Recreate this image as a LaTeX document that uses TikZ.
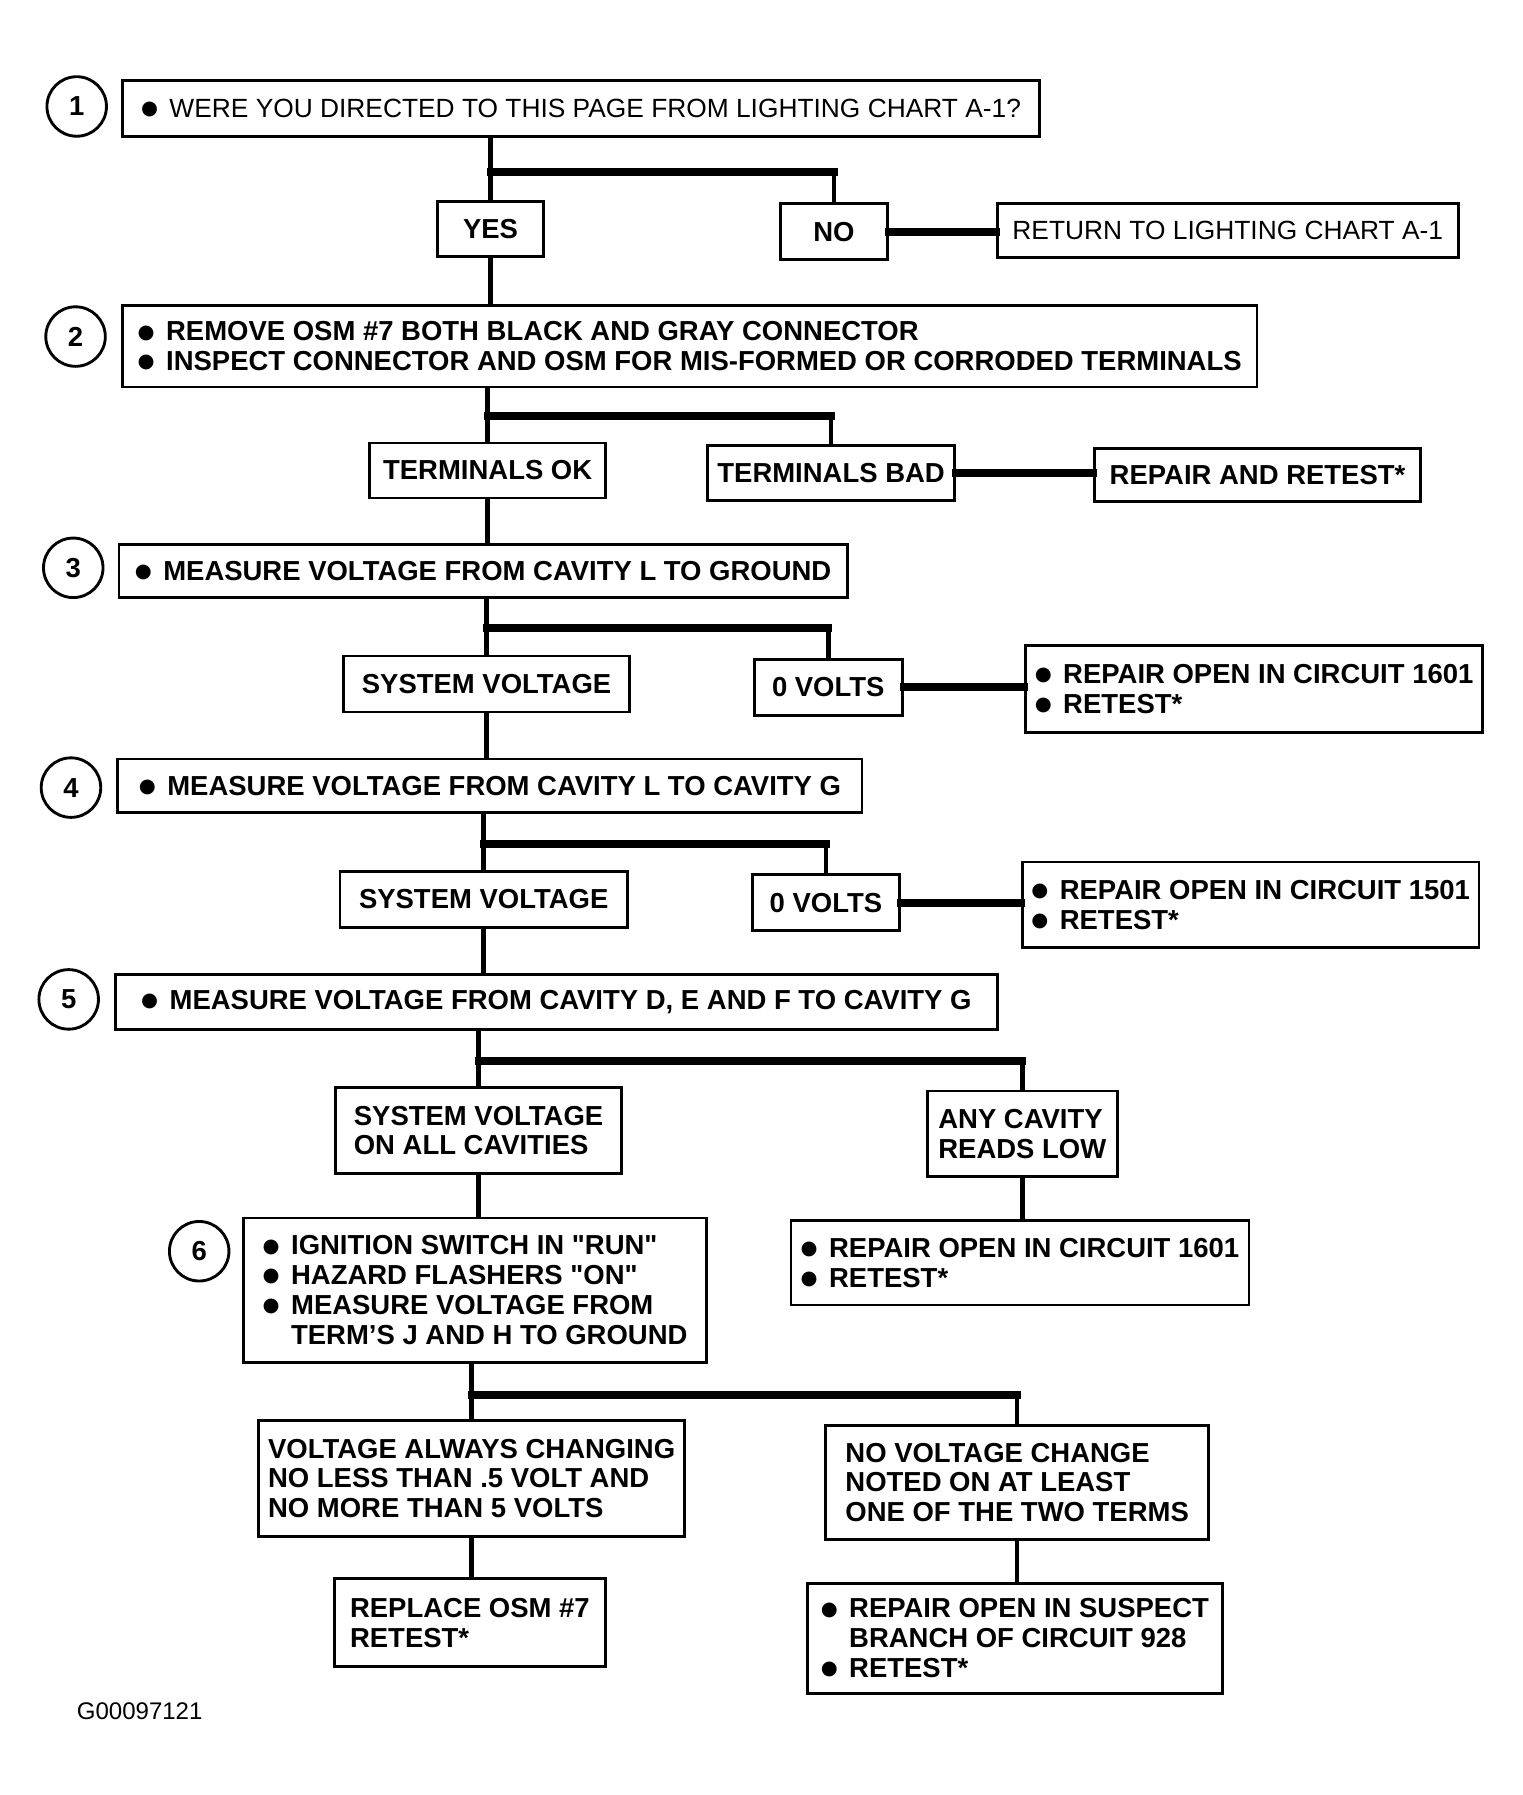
\documentclass[tikz,border=0pt]{standalone}
\usepackage{fontspec}
\setmainfont{Liberation Sans}
\newfontfamily\symfont{DejaVu Sans}
\newcommand{\bul}{\raisebox{2.5pt}{\symfont\fontsize{17}{17}\selectfont ●}\hspace{10pt}}

\begin{document}
\begin{tikzpicture}
  [x=1pt,y=-1pt,
   box/.style={draw,line width=2.5pt,inner sep=0pt,align=left,
     font=\fontsize{24}{26}\selectfont\bfseries},
   plain/.style={box,font=\fontsize{23}{26}\selectfont},
   num/.style={circle,draw,line width=2.5pt,minimum size=52pt,inner sep=0pt,
     font=\fontsize{24}{24}\selectfont\bfseries},
   trunk/.style={line width=4pt},
   bar/.style={line width=7pt,line cap=rect}]
  \useasboundingbox (0,0) rectangle (1330,1568);

  % step numbers
  \node[num] (c1) at (67,93)   {1};
  \node[num] (c2) at (66,294)  {2};
  \node[num] (c3) at (64,496)  {3};
  \node[num] (c4) at (62,688)  {4};
  \node[num] (c5) at (60,873)  {5};
  \node[num] (c6) at (174,1093) {6};

  % step 1
  \node[plain,minimum width=801pt,minimum height=49pt] (b1) at (507.5,94.5)
    {\bul WERE YOU DIRECTED TO THIS PAGE FROM LIGHTING CHART A-1?};
  \node[box,minimum width=93pt,minimum height=48pt] (yes) at (428.5,200) {YES};
  \node[box,minimum width=93pt,minimum height=49pt] (no) at (728.5,202.5) {NO};
  \node[plain,minimum width=403pt,minimum height=47pt] (ret) at (1072.5,201.5)
    {RETURN TO LIGHTING CHART A-1};

  % step 2
  \node[box,minimum width=991pt,minimum height=71pt] (b2) at (602.5,302.5)
    {\bul REMOVE OSM \#7 BOTH BLACK AND GRAY CONNECTOR\\
     \bul INSPECT CONNECTOR AND OSM FOR MIS-FORMED OR CORRODED TERMINALS};
  \node[box,minimum width=206pt,minimum height=48pt] (tok) at (426,411) {TERMINALS OK};
  \node[box,minimum width=216pt,minimum height=48pt] (tbad) at (726,413) {TERMINALS BAD};
  \node[box,minimum width=285pt,minimum height=46pt] (rr) at (1098.5,415) {REPAIR AND RETEST*};

  % step 3
  \node[box,minimum width=636pt,minimum height=46pt] (b3) at (422,499)
    {\bul MEASURE VOLTAGE FROM CAVITY L TO GROUND};
  \node[box,minimum width=250pt,minimum height=49pt] (sv1) at (425,597.5) {SYSTEM VOLTAGE};
  \node[box,minimum width=129pt,minimum height=49pt] (zv1) at (723.5,600.5) {0 VOLTS};
  \node[box,minimum width=399pt,minimum height=76pt] (r1) at (1095.5,602)
    {\bul REPAIR OPEN IN CIRCUIT 1601\\ \bul RETEST*};

  % step 4
  \node[box,minimum width=650pt,minimum height=47pt] (b4) at (428,686.5)
    {\bul MEASURE VOLTAGE FROM CAVITY L TO CAVITY G};
  \node[box,minimum width=251pt,minimum height=49pt] (sv2) at (422.5,785.5) {SYSTEM VOLTAGE};
  \node[box,minimum width=129pt,minimum height=49pt] (zv2) at (721.5,788.5) {0 VOLTS};
  \node[box,minimum width=399pt,minimum height=75pt] (r2) at (1092.5,790.5)
    {\bul REPAIR OPEN IN CIRCUIT 1501\\ \bul RETEST*};

  % step 5
  \node[box,minimum width=770pt,minimum height=48pt] (b5) at (486,875)
    {\bul MEASURE VOLTAGE FROM CAVITY D, E AND F TO CAVITY G};
  \node[box,minimum width=250pt,minimum height=75pt] (svall) at (418,987.5)
    {SYSTEM VOLTAGE\\ ON ALL CAVITIES};
  \node[box,minimum width=166pt,minimum height=75pt] (any) at (893,990.5)
    {ANY CAVITY\\ READS LOW};
  \node[box,minimum width=400pt,minimum height=74pt] (r3) at (891,1103)
    {\bul REPAIR OPEN IN CIRCUIT 1601\\ \bul RETEST*};

  % step 6
  \node[box,minimum width=404pt,minimum height=126pt] (b6) at (415,1127)
    {\bul IGNITION SWITCH IN \textquotedbl RUN\textquotedbl\\
     \bul HAZARD FLASHERS \textquotedbl ON\textquotedbl\\
     \bul MEASURE VOLTAGE FROM\\ \phantom{\bul}TERM'S J AND H TO GROUND};
  \node[box,minimum width=372pt,minimum height=101pt] (vac) at (412,1291.5)
    {VOLTAGE ALWAYS CHANGING\\ NO LESS THAN .5 VOLT AND\\ NO MORE THAN 5 VOLTS};
  \node[box,minimum width=335pt,minimum height=100pt] (nvc) at (888.5,1295)
    {NO VOLTAGE CHANGE\\ NOTED ON AT LEAST\\ ONE OF THE TWO TERMS};
  \node[box,minimum width=237pt,minimum height=77pt] (rep) at (410.5,1417.5)
    {REPLACE OSM \#7\\ RETEST*};
  \node[box,minimum width=363pt,minimum height=96pt] (rs) at (886.5,1431)
    {\bul REPAIR OPEN IN SUSPECT\\ \phantom{\bul}BRANCH OF CIRCUIT 928\\ \bul RETEST*};

  \node[font=\fontsize{21}{21}\selectfont] (code) at (122,1495) {G00097121};

  % branches
  \foreach \t/\l/\r/\y [count=\i] in {b1/yes/no/150, b2/tok/tbad/363, b3/sv1/zv1/549,
      b4/sv2/zv2/737, b5/svall/any/927, b6/vac/nvc/1219}{
    \coordinate (j\i) at (0,\y);
    \draw[trunk] (\t.south -| \l.north) -- (\l.north);
    \draw[bar] (\l.north |- j\i) -- (\r.north |- j\i);
    \draw[trunk] (\r.north |- j\i) -- (\r.north);
  }

  \foreach \from/\to in {yes/b2,tok/b3,sv1/b4,sv2/b5,svall/b6,any/r3,vac/rep,nvc/rs}
    \draw[trunk] (\from.south) -- (\from.south |- \to.north);

  \foreach \from/\to in {no/ret,tbad/rr,zv1/r1,zv2/r2}
    \draw[bar] (\from.east) -- (\to.west |- \from.east);

\end{tikzpicture}
\end{document}
